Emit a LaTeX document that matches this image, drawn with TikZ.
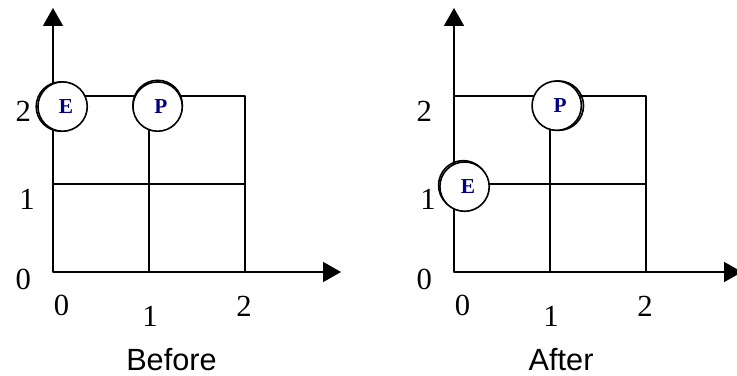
\documentclass[tikz,border=0pt]{standalone}
\usepackage{fontspec}
\setmainfont{Liberation Serif}
\setsansfont{Liberation Sans}
\usetikzlibrary{arrows.meta}
\definecolor{navy}{RGB}{0,0,128}
\begin{document}
\begin{tikzpicture}[line width=1.2pt, line join=round, >={Triangle[length=13.5pt,width=15pt]}]
	\tikzset{
	num/.style={font=\fontsize{23}{23}\selectfont,inner sep=0pt},
	title/.style={font=\sffamily\fontsize{23}{23}\selectfont,inner sep=0pt,anchor=base west},
	ball/.style={circle,draw,fill=white,minimum size=37pt,inner sep=0pt,text=navy,font=\bfseries\fontsize{16}{16}\selectfont,execute at begin node=\hspace*{5pt}},
	board/.style={shift={#1},x=72pt,y=66pt}
	}
	\useasboundingbox(0,0)rectangle(552.75pt,281.25pt);
	% the two grids with their axes
	\foreach \ox/\i/\t/\tx in {39.75pt/1/Before/0.755, 340.5pt/2/After/0.77}{
	\begin{scope}[board={(\ox,77.25pt)}]
	\coordinate(o\i)at(0,0);\coordinate(xa\i)at(3,0);\coordinate(ya\i)at(0,3);
	\draw(o\i)rectangle(2,2)(0,1)--(2,1)(1,0)--(1,2);
	\draw[->](o\i)--(xa\i);
	\draw[->](o\i)--(ya\i);
	\node[num](yb\i)at(-0.31,-0.08){0};
	\node[num](yc\i)at(-0.27,0.82){1};
	\node[num](yd\i)at(-0.31,1.82){2};
	\node[num](xb\i)at(0.09,-0.38){0};
	\node[num](xc\i)at(1.01,-0.50){1};
	\node[num](xd\i)at(1.99,-0.39){2};
	\node[title](t\i)at(\tx,-1.12){\t};
	\end{scope}}
	% before
	\begin{scope}[board={(39.75pt,77.25pt)}]
	\draw([xshift=-1.3pt]0.1,1.88)circle(18.5pt);
	\node[ball](E1)at(0.1,1.88){E};
	\draw([yshift=1.2pt]1.09,1.88)circle(18.5pt);
	\node[ball](P1)at(1.09,1.88){P};
	\end{scope}
	% after
	\begin{scope}[board={(340.5pt,77.25pt)}]
	\draw([xshift=-1pt,yshift=1pt]0.11,0.97)circle(18.5pt);
	\node[ball](E2)at(0.11,0.97){E};
	\draw([xshift=1.6pt]1.07,1.89)circle(18.5pt);
	\node[ball](P2)at(1.07,1.89){P};
	\end{scope}
\end{tikzpicture}
\end{document}
